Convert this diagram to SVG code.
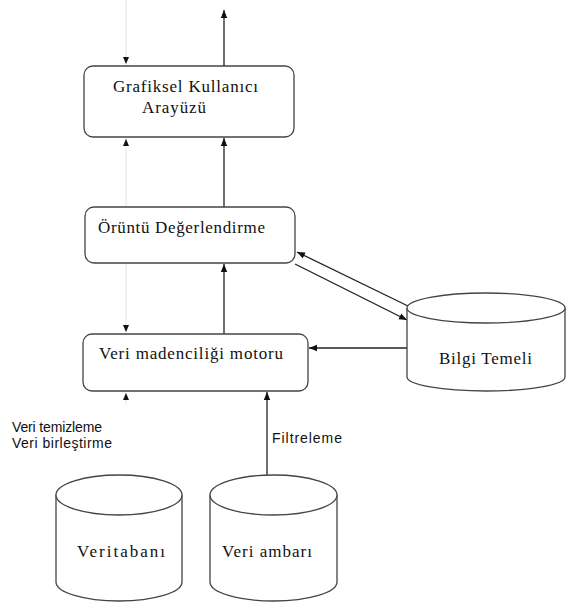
<svg xmlns="http://www.w3.org/2000/svg" width="570" height="603" viewBox="0 0 570 603">
<style>
.box{fill:#fff;stroke:#444;stroke-width:1.3}
.cyl{fill:#fff;stroke:#444;stroke-width:1.3}
.ln{fill:none;stroke:#222;stroke-width:1.3}
.faint{fill:none;stroke:#e4e4e4;stroke-width:1}
.serif{font-family:"Liberation Serif","Times New Roman",serif;font-size:17px;fill:#111}
.sans{font-family:"Liberation Sans",Arial,sans-serif;font-size:14px;fill:#111}
</style>
<defs>
<marker id="ah" viewBox="0 0 8 8" refX="8" refY="4" markerWidth="8" markerHeight="8" markerUnits="userSpaceOnUse" orient="auto">
<path d="M0,0.8 L8,4 L0,7.2 Z" fill="#111"/>
</marker>
</defs>
<rect width="570" height="603" fill="#fff"/>
<g id="connectors">
<line class="faint" x1="126" y1="0" x2="126" y2="405"/>
<path d="M123,57 h6 l-3,7 z" fill="#111"/>
<path d="M123,146 h6 l-3,-7 z" fill="#111"/>
<path d="M123,325 h6 l-3,7 z" fill="#111"/>
<path d="M123,400 h6 l-3,-7 z" fill="#111"/>
<line class="ln" x1="224" y1="66" x2="224" y2="10" marker-end="url(#ah)"/>
<line class="ln" x1="224" y1="207" x2="224" y2="138" marker-end="url(#ah)"/>
<line class="ln" x1="224" y1="334" x2="224" y2="264" marker-end="url(#ah)"/>
<line class="ln" x1="267" y1="475" x2="267" y2="392" marker-end="url(#ah)"/>
<line class="ln" x1="407" y1="348" x2="309" y2="348" marker-end="url(#ah)"/>
<line class="ln" x1="408" y1="306" x2="297" y2="252" marker-end="url(#ah)"/>
<line class="ln" x1="295" y1="264" x2="407" y2="320" marker-end="url(#ah)"/>
</g>
<g id="gui">
<rect class="box" x="84" y="66" width="210" height="71" rx="9"/>
<text class="serif" x="113" y="92" textLength="145" lengthAdjust="spacing">Grafiksel Kullanıcı</text>
<text class="serif" x="142" y="113" textLength="64" lengthAdjust="spacing">Arayüzü</text>
</g>
<g id="pattern">
<rect class="box" x="85" y="207" width="210" height="56" rx="9"/>
<text class="serif" x="98" y="233" textLength="167" lengthAdjust="spacing">Örüntü Değerlendirme</text>
</g>
<g id="engine">
<rect class="box" x="83" y="334" width="225" height="57" rx="9"/>
<text class="serif" x="99" y="359" textLength="184" lengthAdjust="spacing">Veri madenciliği motoru</text>
</g>
<g id="knowledge">
<path class="cyl" d="M407,308 A79,15 0 0 1 565,308 V377 A79,14 0 0 1 407,377 Z"/>
<path class="cyl" d="M407,308 A79,15 0 0 0 565,308"/>
<text class="serif" x="439" y="364" textLength="93" lengthAdjust="spacing">Bilgi Temeli</text>
</g>
<g id="database">
<path class="cyl" d="M56,495 A63,20 0 0 1 182,495 V582 A63,19 0 0 1 56,582 Z"/>
<path class="cyl" d="M56,495 A63,20 0 0 0 182,495"/>
<text class="serif" x="77" y="557" textLength="88" lengthAdjust="spacing">Veritabanı</text>
</g>
<g id="warehouse">
<path class="cyl" d="M210,495 A63.5,20 0 0 1 337,495 V582 A63.5,19 0 0 1 210,582 Z"/>
<path class="cyl" d="M210,495 A63.5,20 0 0 0 337,495"/>
<text class="serif" x="222" y="557" textLength="90" lengthAdjust="spacing">Veri ambarı</text>
</g>
<g id="labels">
<text class="sans" x="12" y="432" textLength="90" lengthAdjust="spacing">Veri temizleme</text>
<text class="sans" x="12" y="448" textLength="100" lengthAdjust="spacing">Veri birleştirme</text>
<text class="sans" x="272" y="443" textLength="70" lengthAdjust="spacing">Filtreleme</text>
</g>
</svg>
